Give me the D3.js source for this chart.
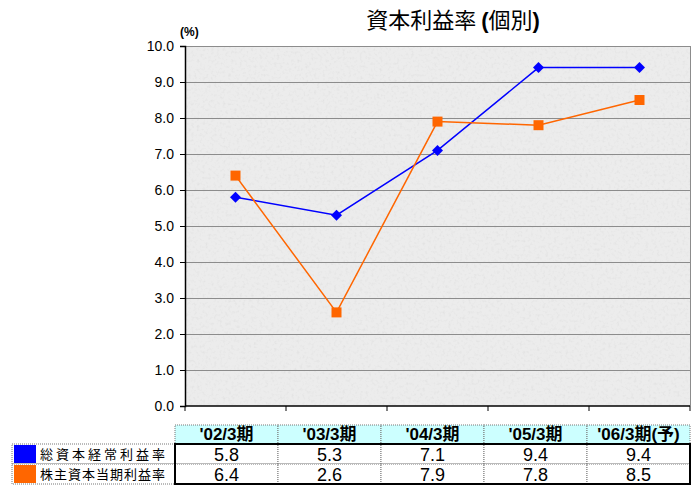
<!DOCTYPE html>
<html><head><meta charset="utf-8">
<script src="https://cdn.jsdelivr.net/npm/d3@7"></script>
<style>body{margin:0;background:#fff;}svg{display:block;}</style>
</head><body><svg id="c" width="693" height="486"></svg>
<script>
const categories = ["'02/3期","'03/3期","'04/3期","'05/3期","'06/3期(予)"];
const seriesNames = ["総資本経常利益率","株主資本当期利益率"];
const totalROA = [5.8,5.3,7.1,9.4,9.4];
const equityROE = [6.4,2.6,7.9,7.8,8.5];
const yTicks = [0,1,2,3,4,5,6,7,8,9,10];
const colors = ["#0000ff","#ff6600"];

const FONT = "'Liberation Sans','Noto Sans CJK JP',sans-serif";
const CJK = "'Noto Sans CJK JP',sans-serif";
const svg = d3.select("#c").attr("font-family",FONT);
const L=185,R=690,T=46,B=406;
const x = d3.scaleBand().domain(categories).range([L,R]);
const y = d3.scaleLinear().domain([0,10]).range([B,T]);

const defs = svg.append("defs");
const f = defs.append("filter").attr("id","noise").attr("x",0).attr("y",0).attr("width","100%").attr("height","100%");
f.append("feTurbulence").attr("type","fractalNoise").attr("baseFrequency","0.35").attr("numOctaves",2).attr("seed",3).attr("result","t");
f.append("feColorMatrix").attr("in","t").attr("type","matrix")
 .attr("values","0 0 0 0 0.55  0 0 0 0 0.55  0 0 0 0 0.55  0 0 0 -1.1 0.55").attr("result","n");
f.append("feComposite").attr("in","n").attr("in2","SourceGraphic").attr("operator","in");

svg.append("rect").attr("x",L).attr("y",T).attr("width",R-L).attr("height",B-T).attr("fill","#ececec");
svg.append("rect").attr("x",L).attr("y",T).attr("width",R-L).attr("height",B-T).attr("fill","#ececec").attr("filter","url(#noise)").attr("opacity",0.5);

// gridlines
svg.append("g").selectAll("line").data(yTicks.filter(d=>d>0)).join("line")
 .attr("x1",L).attr("x2",R).attr("y1",d=>y(d)).attr("y2",d=>y(d))
 .attr("stroke","#8c8c8c").attr("stroke-width",1).attr("shape-rendering","crispEdges");
svg.append("line").attr("x1",R).attr("x2",R).attr("y1",T).attr("y2",B).attr("stroke","#8c8c8c").attr("shape-rendering","crispEdges");

// y axis
const ya = svg.append("g").attr("transform",`translate(${L},0)`)
 .call(d3.axisLeft(y).tickValues(yTicks).tickFormat(d3.format(".1f")).tickSize(5).tickPadding(6))
 .attr("font-family",FONT).attr("font-size",14);
ya.select(".domain").attr("stroke","#000").attr("stroke-width",1.5);
ya.selectAll(".tick line").attr("stroke","#000");
ya.selectAll("text").attr("fill","#000");

// x axis
svg.append("line").attr("x1",L).attr("x2",R).attr("y1",B).attr("y2",B).attr("stroke","#000").attr("stroke-width",1.5);
svg.append("g").selectAll("line").data(categories).join("line")
 .attr("x1",d=>x(d)).attr("x2",d=>x(d)).attr("y1",B).attr("y2",B+5).attr("stroke","#000");
svg.append("line").attr("x1",R).attr("x2",R).attr("y1",B).attr("y2",B+5).attr("stroke","#000");

// lines
const line = d3.line().x((d,i)=>x(categories[i])+x.bandwidth()/2).y(d=>y(d));
[totalROA,equityROE].forEach((s,k)=>{
 svg.append("path").datum(s).attr("d",line).attr("fill","none").attr("stroke",colors[k]).attr("stroke-width",1.5);
});
svg.append("g").selectAll("path").data(totalROA).join("path")
 .attr("d",d3.symbol(d3.symbolSquare,60))
 .attr("transform",(d,i)=>`translate(${x(categories[i])+x.bandwidth()/2},${y(d)}) rotate(45)`)
 .attr("fill",colors[0]);
svg.append("g").selectAll("path").data(equityROE).join("path")
 .attr("d",d3.symbol(d3.symbolSquare,100))
 .attr("transform",(d,i)=>`translate(${x(categories[i])+x.bandwidth()/2},${y(d)})`)
 .attr("fill",colors[1]);

// title
const tt = svg.append("text").attr("x",453).attr("y",28).attr("text-anchor","middle").attr("font-size",22);
tt.append("tspan").attr("font-family",CJK).text("資本利益率 ");
tt.append("tspan").attr("font-weight","bold").text("(");
tt.append("tspan").attr("font-family",CJK).text("個別");
tt.append("tspan").attr("font-weight","bold").text(")");
svg.append("text").attr("x",180).attr("y",36).attr("font-size",12).attr("font-weight","bold").text("(%)");

// table
const tx = d3.scaleBand().domain(categories).range([175,690]);
const hT=425,hB=444,r1B=464,r2B=484;
const tg = svg.append("g");
tg.selectAll("rect.h").data(categories).join("rect").attr("class","h")
 .attr("x",d=>tx(d)).attr("y",hT).attr("width",tx.bandwidth()).attr("height",hB-hT)
 .attr("fill","#ccffff").attr("stroke","#777").attr("stroke-dasharray","1,1");
tg.selectAll("text.h").data(categories).join("text").attr("class","h")
 .attr("x",d=>tx(d)+tx.bandwidth()/2).attr("y",hB-4).attr("text-anchor","middle")
 .attr("font-size",17).attr("font-weight","bold").text(d=>d);
const rows=[totalROA,equityROE];
const rowTops=[hB,r1B], rowBots=[r1B,r2B];
rows.forEach((s,k)=>{
 tg.append("rect").attr("x",12).attr("y",rowTops[k]).attr("width",163).attr("height",rowBots[k]-rowTops[k])
  .attr("fill","#fff").attr("stroke","#777").attr("stroke-dasharray","1,1");
 tg.append("rect").attr("x",14).attr("y",rowTops[k]+1).attr("width",22).attr("height",rowBots[k]-rowTops[k]-2).attr("fill",colors[k]);
 tg.append("text").attr("x",40).attr("y",rowBots[k]-5).attr("font-size",13).attr("letter-spacing",k==0?"3px":"1px")
  .attr("font-family",CJK).text(seriesNames[k]);
 tg.selectAll("rect.r"+k).data(s).join("rect").attr("class","r"+k)
  .attr("x",(d,i)=>tx(categories[i])).attr("y",rowTops[k]).attr("width",tx.bandwidth()).attr("height",rowBots[k]-rowTops[k])
  .attr("fill","#fff").attr("stroke","#777").attr("stroke-dasharray","1,1");
 tg.selectAll("text.r"+k).data(s).join("text").attr("class","r"+k)
  .attr("x",(d,i)=>tx(categories[i])+tx.bandwidth()/2).attr("y",rowBots[k]-3).attr("text-anchor","middle")
  .attr("font-size",18).text(d=>d3.format(".1f")(d));
});
tg.append("rect").attr("x",175).attr("y",hB).attr("width",515).attr("height",r2B-hB).attr("fill","none").attr("stroke","#000").attr("stroke-width",2);
</script></body></html>
